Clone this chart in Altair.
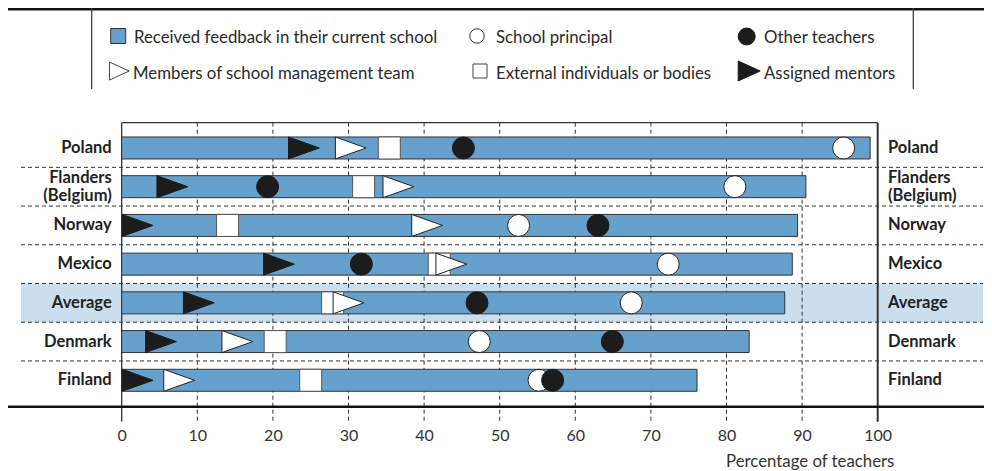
import altair as alt
import pandas as pd

# ---------------- data ----------------
countries = ["Poland", "Flanders (Belgium)", "Norway", "Mexico", "Average", "Denmark", "Finland"]
feedback = [99.0, 90.5, 89.4, 88.7, 87.7, 83.0, 76.1]          # Received feedback in their current school
principal = [95.5, 81.1, 52.5, 72.3, 67.4, 47.3, 55.2]         # School principal
other_teachers = [45.2, 19.3, 63.0, 31.7, 47.0, 64.9, 57.0]    # Other teachers
management = [30.3, 36.6, 40.4, 43.6, 30.0, 15.3, 7.6]         # Members of school management team
external = [35.4, 32.0, 14.0, 42.0, 27.9, 20.3, 25.0]          # External individuals or bodies
mentors = [24.1, 6.7, 2.1, 20.8, 10.2, 5.2, 2.1]               # Assigned mentors
tick_values = [0, 10, 20, 30, 40, 50, 60, 70, 80, 90, 100]
legend_labels = [
    "Received feedback in their current school", "School principal", "Other teachers",
    "Members of school management team", "External individuals or bodies", "Assigned mentors",
]
highlight = "Average"

# ---------------- styling ----------------
FONT = "Lato"
BLUE = "#66a0cc"
BAND = "#cbdeee"
DARK = "#1c1c1c"
LINE = "#333333"
TRI = "M-1.4,-1L1.4,0L-1.4,1Z"
TRI_LEG = "M-1.1,-1L1.1,0L-1.1,1Z"
W, H = 756, 284
LINE_STEP = 0.46  # vertical distance between the two lines of a wrapped row label (in rows)

rows = list(range(len(countries)))
df = pd.DataFrame({
    "country": countries,
    "row": rows,
    "feedback": feedback,
    "principal": principal,
    "other": other_teachers,
    "management": management,
    "external": external,
    "mentors": mentors,
})

# row labels, wrapped "Name (Region)" -> two lines
label_rows = []
for r, c in zip(rows, countries):
    parts = c.replace(" (", "\n(").split("\n")
    n = len(parts)
    for i, p in enumerate(parts):
        label_rows.append({"text": p, "ypos": r + (i - (n - 1) / 2) * LINE_STEP})
labels_df = pd.DataFrame(label_rows)

xscale = alt.Scale(domain=[0, 100], nice=False, zero=False)
yscale = alt.Scale(domain=[-0.653, 6.682], reverse=True, nice=False, zero=False, padding=0)
xaxis = alt.Axis(
    values=tick_values, domain=False, ticks=False, tickSize=0, grid=False, labelFlush=False,
    labelFont=FONT, labelFontSize=16, labelColor="#333333", labelBaseline="middle",
    labelPadding=29, title="Percentage of teachers", titleFont=FONT, titleFontSize=16.8,
    titleFontWeight="normal", titleColor="#333333", titleX=688, titleY=60,
    titleAlign="center", titleBaseline="alphabetic", titleAnchor="start",
)


def X(field):
    return alt.X(field, type="quantitative", scale=xscale, axis=xaxis)


def Y(field):
    return alt.Y(field, type="quantitative", scale=yscale, axis=None)


one = pd.DataFrame({"k": [0]})
layers = []

# highlighted band for the average row
hi = df[df["country"] == highlight].assign(y1=lambda d: d["row"] - 0.5, y2=lambda d: d["row"] + 0.5)
layers.append(
    alt.Chart(hi).mark_rect(fill=BAND).encode(
        y=Y("y1"), y2="y2", x=alt.value(-100.7), x2=alt.value(861.3)
    )
)

# dashed separators between rows
seps = pd.DataFrame({"pos": [r + 0.5 for r in rows[:-1]]})
layers.append(
    alt.Chart(seps).mark_rule(color=LINE, strokeWidth=1, strokeDash=[4, 3]).encode(
        y=Y("pos"), x=alt.value(-100.7), x2=alt.value(861.3)
    )
)

# vertical grid lines (dashed) and solid 0 / 100 lines
grid = pd.DataFrame({"t": [t for t in tick_values if t not in (0, 100)]})
layers.append(
    alt.Chart(grid).mark_rule(color=LINE, strokeWidth=1, strokeDash=[4, 3]).encode(
        x=X("t"), y=alt.value(0), y2=alt.value(299)
    )
)
layers.append(
    alt.Chart(pd.DataFrame({"t": [0]})).mark_rule(color=LINE, strokeWidth=1.3).encode(
        x=X("t"), y=alt.value(0), y2=alt.value(299)
    )
)
layers.append(
    alt.Chart(pd.DataFrame({"t": [100]})).mark_rule(color=LINE, strokeWidth=2).encode(
        x=X("t"), y=alt.value(0), y2=alt.value(299)
    )
)
# plot top border
layers.append(
    alt.Chart(one).mark_rule(color=LINE, strokeWidth=1.2).encode(
        y=alt.value(0), x=alt.value(0), x2=alt.value(W)
    )
)

# bars
layers.append(
    alt.Chart(df).mark_bar(orient="horizontal", size=22, color=BLUE, stroke=LINE, strokeWidth=1).encode(
        x=X("feedback"), x2=alt.datum(0), y=Y("row")
    )
)

# markers (bottom to top)
marker_specs = [
    ("external", "square", "white", "#555555"),
    ("principal", "circle", "white", "#222222"),
    ("other", "circle", DARK, DARK),
    ("management", TRI, "white", "#222222"),
    ("mentors", TRI, DARK, DARK),
]
for field, shape, fill, stroke in marker_specs:
    layers.append(
        alt.Chart(df).mark_point(
            shape=shape, size=484, filled=True, fill=fill, stroke=stroke,
            strokeWidth=1, opacity=1,
        ).encode(x=X(field), y=Y("row"))
    )

# row labels, left and right
for xpos, align in [(-10, "right"), (766.3, "left")]:
    layers.append(
        alt.Chart(labels_df).mark_text(
            align=align, baseline="middle", font=FONT, fontSize=16.5, fontWeight="bold",
            color="#222222",
        ).encode(x=alt.value(xpos), y=Y("ypos"), text="text:N")
    )

# heavy horizontal rules (top and bottom)
for ypos in [-113.4, H]:
    layers.append(
        alt.Chart(one).mark_rule(color="#111111", strokeWidth=2.6).encode(
            y=alt.value(ypos), x=alt.value(-116.7), x2=alt.value(870)
        )
    )

# legend box side lines
for xpos in [-30, 791.6]:
    layers.append(
        alt.Chart(one).mark_rule(color="#444444", strokeWidth=1.3).encode(
            x=alt.value(xpos), y=alt.value(-114.7), y2=alt.value(-33.7)
        )
    )

# legend entries: (glyph x, glyph y, text x, text baseline y, shape, size, fill, stroke)
legend_layout = [
    (-3.5, -86.7, 12.3, -80.0, "square", 225, BLUE, LINE),
    (355.3, -86.7, 374.3, -80.0, "circle", 210, "white", LINE),
    (625.0, -86.2, 642.3, -80.0, "circle", 289, DARK, DARK),
    (-2.4, -51.7, 11.3, -44.0, TRI_LEG, 324, "white", "#444444"),
    (358.3, -51.7, 374.3, -44.0, "square", 196, "white", "#444444"),
    (627.5, -51.7, 642.3, -44.0, TRI_LEG, 400, DARK, DARK),
]
for (gx, gy, tx, ty, shape, size, fill, stroke), text in zip(legend_layout, legend_labels):
    layers.append(
        alt.Chart(one).mark_point(
            shape=shape, size=size, filled=True, fill=fill, stroke=stroke, strokeWidth=1, opacity=1
        ).encode(x=alt.value(gx), y=alt.value(gy))
    )
    layers.append(
        alt.Chart(pd.DataFrame({"label": [text]})).mark_text(
            align="left", baseline="alphabetic", font=FONT, fontSize=16.8, color="#2a2a2a"
        ).encode(x=alt.value(tx), y=alt.value(ty), text="label:N")
    )

chart = alt.layer(*layers).properties(
    width=W,
    height=H,
    padding={"left": 113.7, "top": 114.7, "right": 106.3, "bottom": 64.3},
    autosize=alt.AutoSizeParams(type="none"),
).configure_view(stroke=None)

chart.save("out.html", embed_options={"renderer": "svg", "actions": False})
